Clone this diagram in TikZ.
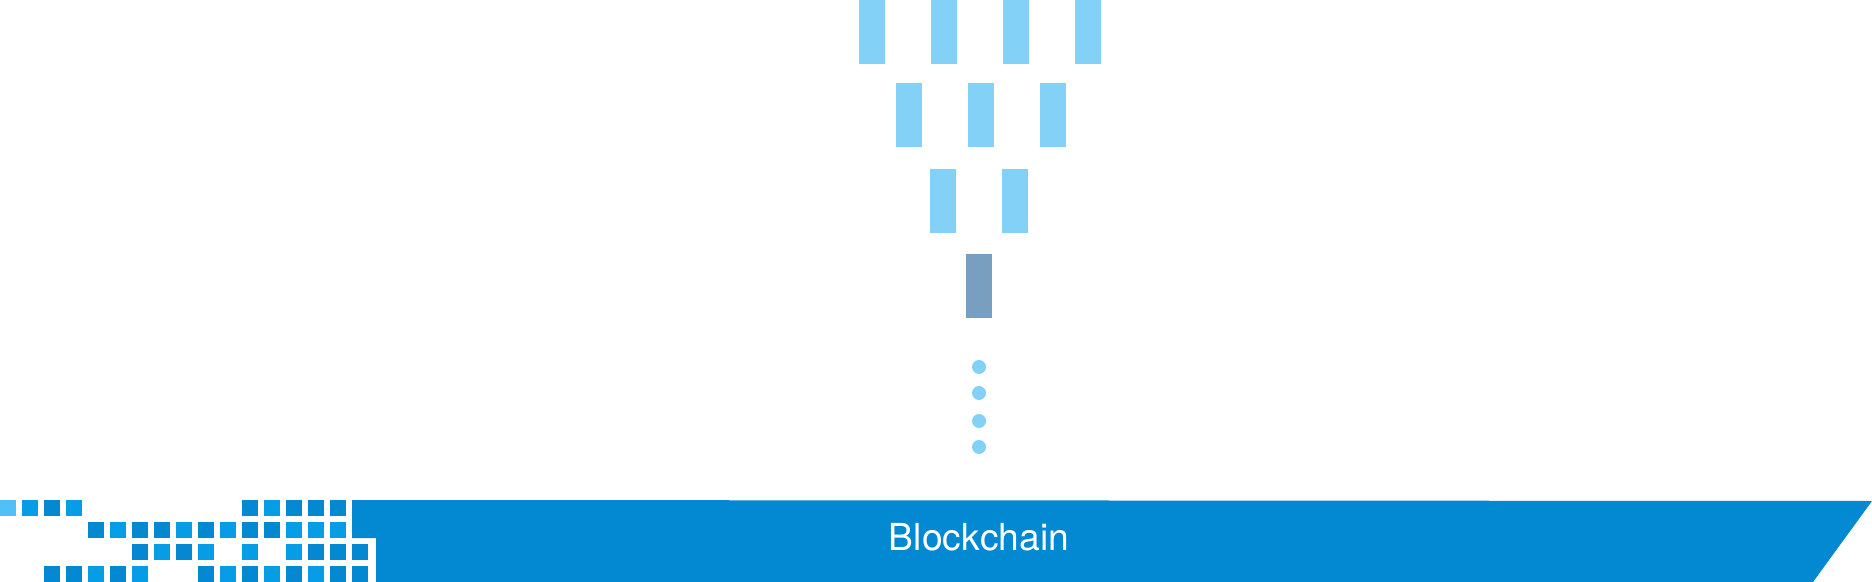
\documentclass[tikz,border=0pt]{standalone}
\usepackage{fontspec}
\setmainfont{TeX Gyre Heros}
\definecolor{barlight}{HTML}{84D1F8}
\definecolor{bardark}{HTML}{789EC0}
\definecolor{chainblue}{HTML}{0388D2}
\definecolor{sqlight}{HTML}{4FC1F7}
\definecolor{sqmid}{HTML}{069DE6}
\definecolor{sqdark}{HTML}{0388D1}
\tikzset{
  txbar/.style={fill=barlight},
  topbar/.style={fill=bardark},
  waitdot/.style={fill=barlight},
  sqL/.style={fill=sqlight},
  sqM/.style={fill=sqmid},
  sqD/.style={fill=sqdark},
  chainlabel/.style={text=white,font=\fontsize{18.6}{20}\selectfont,inner sep=0pt,anchor=base}
}
\begin{document}
\begin{tikzpicture}[x=0.5pt,y=-0.5pt]
\useasboundingbox (0,0) rectangle (1872,582);
% bars
\foreach \x in {859,931,1003,1075} \fill[txbar] (\x,0) rectangle ++(26,64);
\foreach \x in {896,968,1040} \fill[txbar] (\x,83) rectangle ++(26,64);
\foreach \x in {930,1002} \fill[txbar] (\x,169) rectangle ++(26,64);
\fill[topbar] (966,254) rectangle ++(26,64);
% dots
\foreach \y in {367,393,421,447} \fill[waitdot] (979,\y) circle (7);
% chain
\fill[chainblue] (352,500) -- (1872,501) -- (1813,582) -- (376,582) -- (376,538) -- (352,538) -- cycle;
\node[chainlabel] (chain) at (979,550) {Blockchain};
% squares
\foreach \k/\c in {0/sqL,1/sqM,2/sqD,3/sqM,11/sqD,12/sqM,13/sqD,14/sqD,15/sqD}
  \fill[\c] ({22*\k},500) rectangle ++(16,16);
\foreach \k/\c in {4/sqD,5/sqM,6/sqD,7/sqD,8/sqM,9/sqD,10/sqM,11/sqD,12/sqD,13/sqM,14/sqM,15/sqM}
  \fill[\c] ({22*\k},522) rectangle ++(16,16);
\foreach \k/\c in {6/sqD,7/sqM,8/sqD,9/sqM,11/sqM,13/sqM,14/sqD,15/sqD,16/sqD}
  \fill[\c] ({22*\k},544) rectangle ++(16,16);
\foreach \k/\c in {2/sqD,3/sqD,4/sqM,5/sqD,6/sqM,9/sqD,10/sqM,11/sqD,12/sqM,13/sqD,14/sqM,15/sqD,16/sqD}
  \fill[\c] ({22*\k},566) rectangle ++(16,16);
\end{tikzpicture}
\end{document}
